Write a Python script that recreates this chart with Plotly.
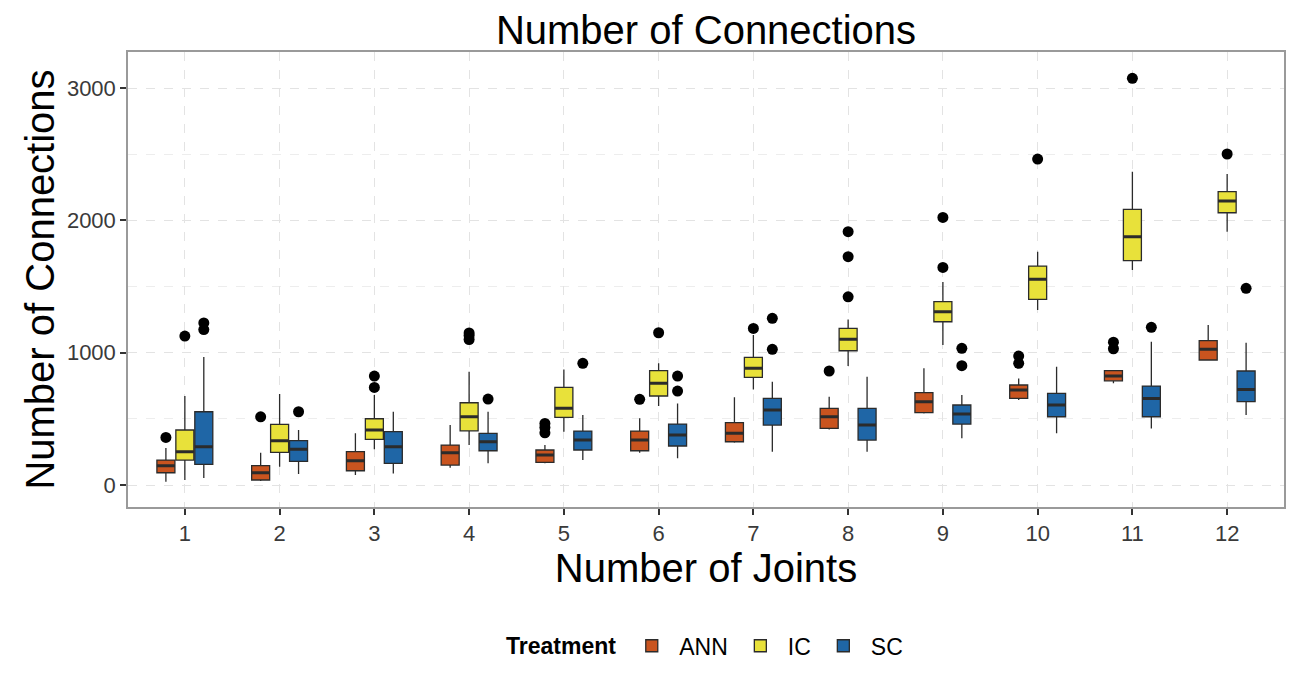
import plotly.graph_objects as go

joints = list(range(1, 13))
tick_labels = [str(j) for j in joints]
treatments = ["ANN", "IC", "SC"]

# ANN box statistics
ann_q1 = [93, 38, 108, 151, 172, 259, 327, 429, 547, 655, 788, 945]
ann_median = [146, 93, 184, 244, 227, 340, 391, 516, 630, 718, 824, 1026]
ann_q3 = [189, 146, 252, 302, 265, 408, 471, 580, 698, 756, 864, 1091]
ann_lower = [25, 30, 76, 131, 165, 244, 320, 420, 540, 642, 769, 940]
ann_upper = [280, 244, 391, 453, 302, 504, 663, 668, 882, 806, 870, 1209]
ann_out_joint = [1, 2, 5, 5, 5, 6, 8, 10, 10, 11, 11]
ann_out_value = [360, 516, 395, 435, 465, 648, 862, 920, 975, 1030, 1080]

# IC box statistics
ic_q1 = [189, 247, 345, 410, 512, 673, 814, 1015, 1234, 1404, 1696, 2058]
ic_median = [252, 335, 416, 516, 580, 769, 882, 1101, 1310, 1555, 1877, 2147]
ic_q3 = [416, 459, 501, 622, 738, 864, 965, 1184, 1386, 1655, 2084, 2217]
ic_lower = [38, 139, 270, 302, 403, 597, 723, 899, 1058, 1323, 1625, 1915]
ic_upper = [673, 688, 680, 856, 874, 920, 1134, 1252, 1534, 1764, 2368, 2351]
ic_out_joint = [1, 3, 3, 4, 4, 4, 6, 7, 8, 8, 8, 9, 9, 10, 11, 12]
ic_out_value = [1126, 738, 824, 1100, 1130, 1150, 1151, 1184, 1423, 1726, 1915, 1645, 2023, 2464, 3074, 2502]

# SC box statistics
sc_q1 = [156, 179, 164, 259, 265, 295, 453, 340, 461, 516, 516, 630]
sc_median = [290, 270, 290, 327, 340, 378, 567, 453, 537, 605, 655, 723]
sc_q3 = [554, 335, 403, 391, 408, 461, 655, 580, 605, 693, 748, 862]
sc_lower = [53, 83, 88, 164, 189, 202, 252, 252, 353, 391, 428, 529]
sc_upper = [967, 416, 554, 554, 529, 617, 781, 819, 680, 894, 1083, 1076]
sc_out_joint = [1, 1, 2, 4, 5, 6, 6, 7, 7, 9, 9, 11, 12]
sc_out_value = [1175, 1225, 554, 650, 920, 710, 824, 1026, 1260, 902, 1033, 1192, 1487]

colors = {"ANN": "#C9541F", "IC": "#E8E13A", "SC": "#1F66A6"}
dodge = {"ANN": -0.2, "IC": 0.0, "SC": 0.2}
stats = {
    "ANN": (ann_q1, ann_median, ann_q3, ann_lower, ann_upper, ann_out_joint, ann_out_value),
    "IC": (ic_q1, ic_median, ic_q3, ic_lower, ic_upper, ic_out_joint, ic_out_value),
    "SC": (sc_q1, sc_median, sc_q3, sc_lower, sc_upper, sc_out_joint, sc_out_value),
}

FONT = "Liberation Sans, Arial, Helvetica, sans-serif"
LINE = "#2b2b2b"
BOXW = 0.19
W, H = 1292, 677

fig = go.Figure()
for t in treatments:
    q1, med, q3, lo, hi, oj, ov = stats[t]
    xs = [j + dodge[t] for j in joints]
    fig.add_trace(go.Box(
        name=t, x=xs, q1=q1, median=med, q3=q3, lowerfence=lo, upperfence=hi,
        width=BOXW, fillcolor=colors[t], line=dict(color=LINE, width=1.3),
        whiskerwidth=0, boxpoints=False, hoverinfo="skip", legendgroup=t,
    ))
    # thicker median bar
    fig.add_trace(go.Box(
        name=t, x=xs, q1=med, median=med, q3=med, lowerfence=med, upperfence=med,
        width=BOXW, fillcolor=colors[t], line=dict(color=LINE, width=3),
        whiskerwidth=0, boxpoints=False, hoverinfo="skip", showlegend=False, legendgroup=t,
    ))
    fig.add_trace(go.Scatter(
        x=[j + dodge[t] for j in oj], y=ov, mode="markers",
        marker=dict(color="black", size=11), showlegend=False, hoverinfo="skip",
    ))

grid = "#e3e3e3"
fig.update_layout(
    width=W, height=H, autosize=False,
    margin=dict(l=128, r=8, t=52, b=170),
    paper_bgcolor="white", plot_bgcolor="white",
    boxmode="overlay",
    font=dict(family=FONT, color="black"),
    title=dict(text="Number of Connections", x=0.5, xref="paper", xanchor="center",
               y=1 - 30 / H, yanchor="middle", font=dict(size=40, family=FONT, color="black")),
    xaxis=dict(
        range=[0.4, 12.6], tickmode="array", tickvals=joints, ticktext=tick_labels,
        ticks="outside", ticklen=6, tickwidth=1.5, tickcolor="#333333",
        tickfont=dict(size=22, color="#3a3a3a"),
        showline=True, linecolor="#9a9a9a", linewidth=1.5, mirror=True,
        showgrid=True, gridcolor=grid, griddash="dash", gridwidth=1, zeroline=False,
        automargin=False,
        title=dict(text="Number of Joints", font=dict(size=40, color="black"), standoff=4),
    ),
    yaxis=dict(
        range=[-166, 3273], tickmode="array", tickvals=[0, 1000, 2000, 3000],
        ticktext=["0", "1000", "2000", "3000"],
        ticks="outside", ticklen=6, tickwidth=1.5, tickcolor="#333333",
        tickfont=dict(size=22, color="#3a3a3a"),
        showline=True, linecolor="#9a9a9a", linewidth=1.5, mirror=True,
        showgrid=True, gridcolor=grid, griddash="dash", gridwidth=1, zeroline=False,
        automargin=False,
        minor=dict(tickvals=[500, 1500, 2500], showgrid=True, gridcolor="#ededed",
                   griddash="dash", ticks=""),
        title=dict(text="Number of Connections", font=dict(size=40, color="black"), standoff=0),
    ),
    legend=dict(
        orientation="h", x=0.5, xanchor="center", y=-0.305, yanchor="middle",
        title=dict(text="<b>Treatment</b>", side="left", font=dict(size=23)),
        font=dict(size=23), bgcolor="rgba(0,0,0,0)", itemwidth=45,
    ),
)

fig.write_html(
    "out.html",
    config={"displayModeBar": False},
    post_script="document.body.style.margin='0px';document.body.style.overflow='hidden';",
)
